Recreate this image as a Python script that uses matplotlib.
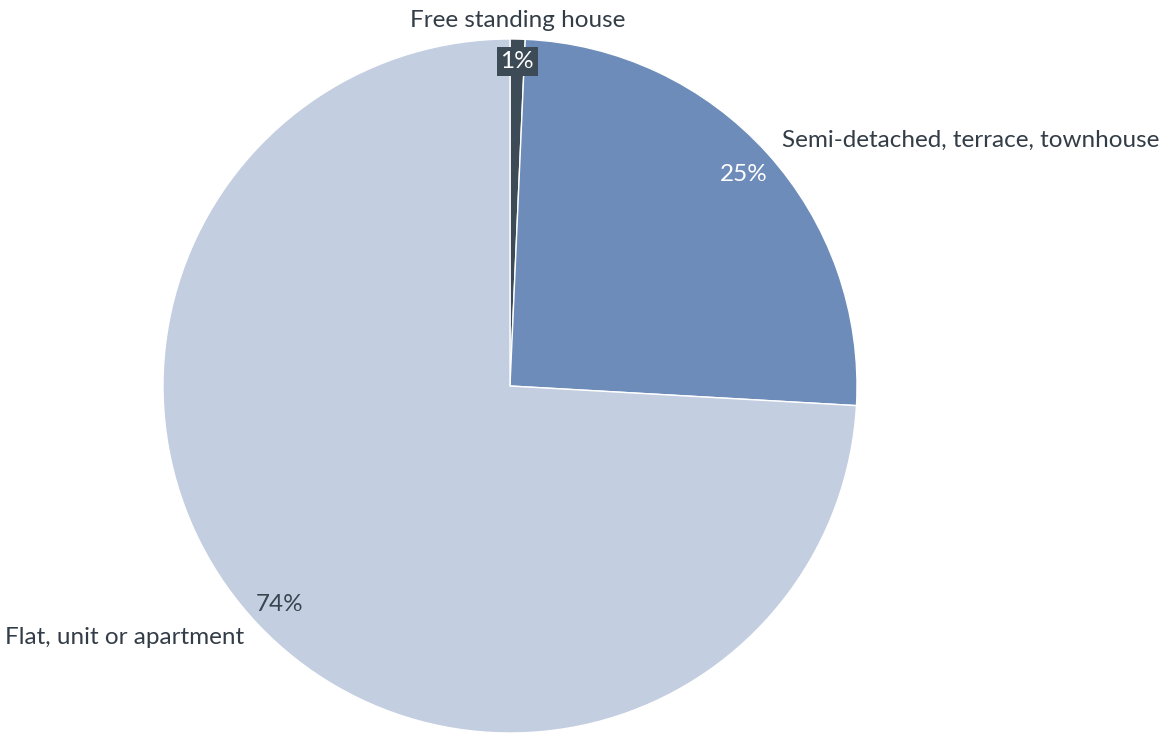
import matplotlib
matplotlib.use("Agg")
import matplotlib.pyplot as plt
import numpy as np

plt.rcParams['font.family'] = ['Lato', 'DejaVu Sans']

# housing type shares, clockwise from 12 o'clock
categories = ["Free standing house", "Semi-detached, terrace, townhouse", "Flat, unit or apartment"]
shares = [0.7, 25.2, 74.1]
colors = ["#3d4b56", "#6d8cb9", "#c3cee1"]
pct_colors = ["white", "white", "#3a444e"]

fig = plt.figure(figsize=(11.72, 7.34), dpi=100)
W, H = 1172, 734
cx, cy, r = 510, 386, 347
ax = fig.add_axes([(cx - r) / W, 1 - (cy + r) / H, 2 * r / W, 2 * r / H])

wedges, _ = ax.pie(shares, colors=colors, startangle=90, counterclock=False,
                   radius=1, wedgeprops=dict(edgecolor="white", linewidth=1))
# pie() sets its own padded limits, override so the circle fills the axes
ax.set_xlim(-1, 1)
ax.set_ylim(-1, 1)
ax.set_aspect("equal")
ax.axis("off")

fs = 17.5
pct_r = [0.935, 0.91, 0.915]
for i, w in enumerate(wedges):
    mid = np.deg2rad((w.theta1 + w.theta2) / 2)
    x, y = np.cos(mid), np.sin(mid)
    # percentage inside the slice
    bbox = None
    if i == 0:
        bbox = dict(boxstyle="square,pad=0.15", fc=colors[0], ec="none")
    ax.text(pct_r[i] * x, pct_r[i] * y, f"{shares[i]:.0f}%", ha="center", va="center",
            fontsize=fs, color=pct_colors[i], bbox=bbox)
    # category label outside
    if abs(x) < 0.1:
        ha = "center"
    elif x > 0:
        ha = "left"
    else:
        ha = "right"
    ax.text(1.055 * x, 1.055 * y, categories[i], ha=ha, va="center",
            fontsize=fs, color="#333d47", clip_on=False)

fig.savefig("out.png", dpi=100)
